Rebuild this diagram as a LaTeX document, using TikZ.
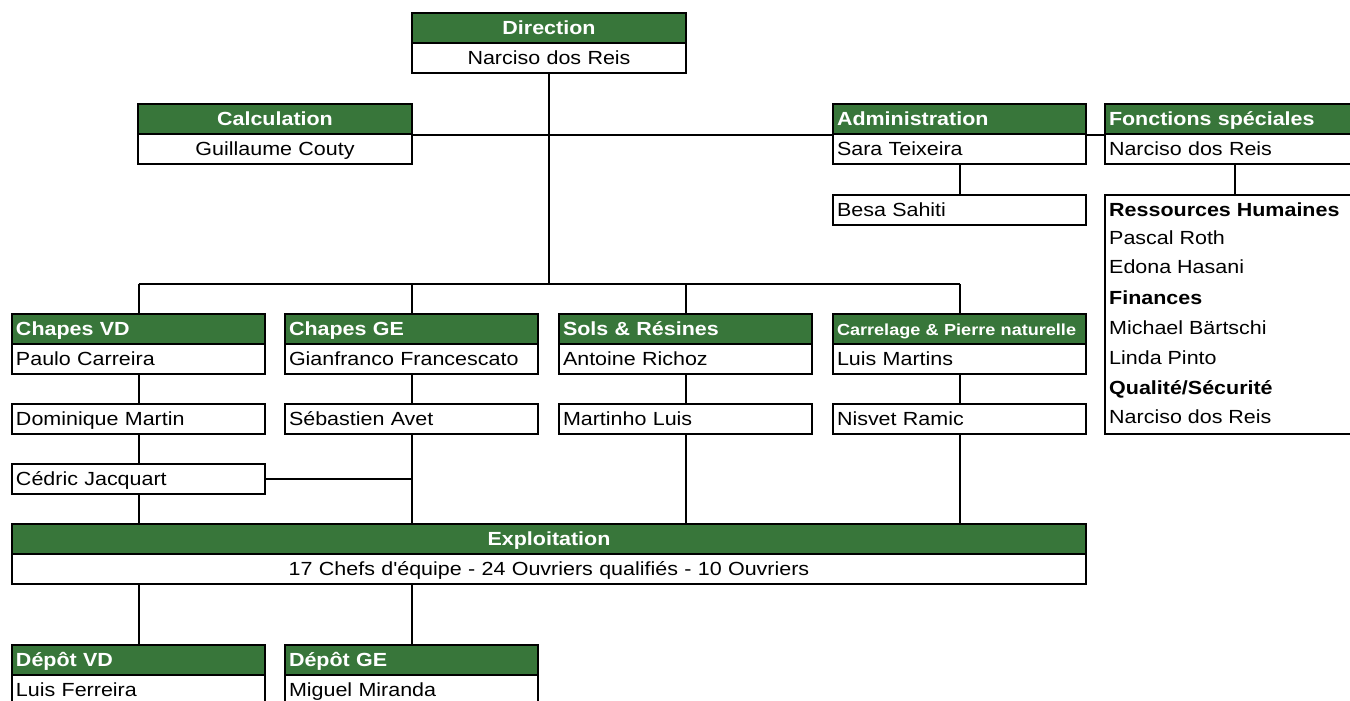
\documentclass[tikz,border=0pt]{standalone}
\usepackage{fontspec}
\setmainfont{Liberation Sans}[FakeStretch=1.13]
\newfontfamily\rawfont{Liberation Sans}[FakeStretch=1.13]
\definecolor{hgreen}{RGB}{56,118,58}
\begin{document}
\begin{tikzpicture}[x=1pt,y=-1pt,
  cell/.style={draw=black, line width=2.2pt, minimum height=30pt, inner xsep=4pt, inner ysep=0pt, fill=white,
    text height=15pt, text depth=2pt,
    font=\fontsize{19}{21}\selectfont},
  hdr/.style={cell, fill=hgreen, text=white, font=\fontsize{19}{21}\selectfont\bfseries},
  wA/.style={text width=266pt},
  wB/.style={text width=245pt},
  wF/.style={text width=252pt},
  wE/.style={text width=1066pt},
  conn/.style={draw=black, line width=2pt},
  lst/.style={anchor=west, inner sep=0pt, text height=14pt, text depth=3pt, font=\fontsize{19}{21}\selectfont},
  lsth/.style={lst, font=\fontsize{19}{21}\selectfont\bfseries}]
\useasboundingbox (0,0) rectangle (1350,701);
\clip (0,0) rectangle (1350,701);
\fill[white] (0,0) rectangle (1350,701);

% Direction
\node[hdr, wA, align=center] (dirH) at (549,28) {Direction};
\node[cell, wA, align=center] (dirB) at (549,58) {Narciso dos Reis};
% Calculation
\node[hdr, wA, align=center] (calH) at (275,119) {Calculation};
\node[cell, wA, align=center] (calB) at (275,149) {Guillaume Couty};
% Administration
\node[hdr, wB, align=left] (admH) at (959.5,119) {Administration};
\node[cell, wB, align=left] (admB) at (959.5,149) {Sara Teixeira};
\node[cell, wB, align=left] (besa) at (959.5,210) {Besa Sahiti};
% Fonctions speciales
\node[hdr, wF, align=left] (fsH) at (1235,119) {Fonctions spéciales};
\node[cell, wF, align=left] (fsB) at (1235,149) {Narciso dos Reis};
\node[draw=black, line width=2.2pt, minimum width=260pt, minimum height=239pt, inner sep=0pt] (rh) at (1235,314.5) {};
\node[lsth] (t1) at (1109,211) {Ressources Humaines};
\node[lst] (t2) at (1109,239) {Pascal Roth};
\node[lst] (t3) at (1109,268) {Edona Hasani};
\node[lsth] (t4) at (1109,299) {Finances};
\node[lst] (t5) at (1109,329) {Michael Bärtschi};
\node[lst] (t6) at (1109,359) {Linda Pinto};
\node[lsth] (t7) at (1109,389) {Qualité/Sécurité};
\node[lst] (t8) at (1109,418) {Narciso dos Reis};

% Row of departments
\node[hdr, wB, align=left] (cvdH) at (138.5,329) {Chapes VD};
\node[cell, wB, align=left] (cvdB) at (138.5,359) {Paulo Carreira};
\node[hdr, wB, align=left] (cgeH) at (411.5,329) {Chapes GE};
\node[cell, wB, align=left] (cgeB) at (411.5,359) {Gianfranco Francescato};
\node[hdr, wB, align=left] (solH) at (685.5,329) {Sols \& Résines};
\node[cell, wB, align=left] (solB) at (685.5,359) {Antoine Richoz};
\node[hdr, wB, align=left, font=\fontsize{16}{18}\selectfont\bfseries] (carH) at (959.5,329) {\mbox{Carrelage \& Pierre naturelle}};
\node[cell, wB, align=left] (carB) at (959.5,359) {Luis Martins};

\node[cell, wB, align=left] (dom) at (138.5,419) {Dominique Martin};
\node[cell, wB, align=left] (seb) at (411.5,419) {Sébastien Avet};
\node[cell, wB, align=left] (mar) at (685.5,419) {Martinho Luis};
\node[cell, wB, align=left] (nis) at (959.5,419) {Nisvet Ramic};
\node[cell, wB, align=left] (ced) at (138.5,479) {Cédric Jacquart};

% Exploitation
\node[hdr, wE, align=center] (expH) at (549,539) {Exploitation};
\node[cell, wE, align=center] (expB) at (549,569) {17 Chefs d{\rawfont'}équipe - 24 Ouvriers qualifiés - 10 Ouvriers};

% Depots
\node[hdr, wB, align=left] (dvdH) at (138.5,660) {Dépôt VD};
\node[cell, wB, align=left] (dvdB) at (138.5,690) {Luis Ferreira};
\node[hdr, wB, align=left] (dgeH) at (411.5,660) {Dépôt GE};
\node[cell, wB, align=left] (dgeB) at (411.5,690) {Miguel Miranda};

% Connectors
\coordinate (barL) at (138.5,284);
\coordinate (barR) at (959.5,284);
\draw[conn] (dirB.south) -- (dirB.south |- barL);
\draw[conn] (calH.south east) -- (admH.south west);
\draw[conn] (admH.south east) -- (fsH.south west);
\draw[conn] (barL) -- (barR);
\draw[conn] (cvdH.north) -- (cvdH.north |- barL);
\draw[conn] (cgeH.north) -- (cgeH.north |- barL);
\draw[conn] (solH.north) -- (solH.north |- barL);
\draw[conn] (carH.north) -- (carH.north |- barL);
\draw[conn] (admB.south) -- (besa.north);
\draw[conn] (fsB.south) -- (fsB.south |- rh.north);

\draw[conn] (cvdB.south) -- (dom.north);
\draw[conn] (dom.south) -- (ced.north);
\draw[conn] (ced.south) -- (ced.south |- expH.north);
\draw[conn] (cgeB.south) -- (seb.north);
\draw[conn] (seb.south) -- (seb.south |- expH.north);
\draw[conn] (ced.east) -- (ced.east -| seb.south);
\draw[conn] (solB.south) -- (mar.north);
\draw[conn] (mar.south) -- (mar.south |- expH.north);
\draw[conn] (carB.south) -- (nis.north);
\draw[conn] (nis.south) -- (nis.south |- expH.north);

\draw[conn] (expB.south -| dvdH.north) -- (dvdH.north);
\draw[conn] (expB.south -| dgeH.north) -- (dgeH.north);
\end{tikzpicture}
\end{document}
